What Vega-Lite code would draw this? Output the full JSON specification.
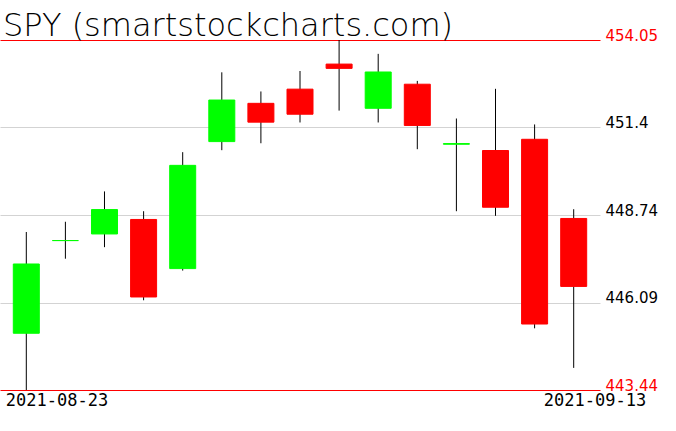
{
  "$schema": "https://vega.github.io/schema/vega-lite/v6.json",
  "width": 600,
  "height": 350,
  "autosize": {"type": "none"},
  "padding": {"left": 0, "top": 40, "right": 76, "bottom": 41},
  "background": "white",
  "title": {
    "text": "SPY (smartstockcharts.com)",
    "anchor": "start",
    "frame": "group",
    "orient": "top",
    "baseline": "alphabetic",
    "offset": -40,
    "dx": 3,
    "font": "DejaVu Sans",
    "fontSize": 32,
    "fontWeight": 200,
    "color": "black"
  },
  "data": {
    "values": [
      {"date": "2021-08-23", "open": 445.16, "high": 448.23, "low": 443.44, "close": 447.26},
      {"date": "2021-08-24", "open": 447.97, "high": 448.54, "low": 447.42, "close": 447.97},
      {"date": "2021-08-25", "open": 448.17, "high": 449.46, "low": 447.77, "close": 448.91},
      {"date": "2021-08-26", "open": 448.61, "high": 448.86, "low": 446.16, "close": 446.26},
      {"date": "2021-08-27", "open": 447.12, "high": 450.65, "low": 447.06, "close": 450.25},
      {"date": "2021-08-30", "open": 450.97, "high": 453.07, "low": 450.71, "close": 452.23},
      {"date": "2021-08-31", "open": 452.13, "high": 452.49, "low": 450.92, "close": 451.56},
      {"date": "2021-09-01", "open": 452.56, "high": 453.11, "low": 451.55, "close": 451.80},
      {"date": "2021-09-02", "open": 453.32, "high": 454.05, "low": 451.91, "close": 453.19},
      {"date": "2021-09-03", "open": 451.98, "high": 453.63, "low": 451.55, "close": 453.08},
      {"date": "2021-09-07", "open": 452.71, "high": 452.81, "low": 450.74, "close": 451.46},
      {"date": "2021-09-08", "open": 450.89, "high": 451.67, "low": 448.86, "close": 450.91},
      {"date": "2021-09-09", "open": 450.70, "high": 452.57, "low": 448.72, "close": 448.98},
      {"date": "2021-09-10", "open": 451.04, "high": 451.49, "low": 445.31, "close": 445.44},
      {"date": "2021-09-13", "open": 448.64, "high": 448.92, "low": 444.11, "close": 446.58}
    ]
  },
  "encoding": {
    "x": {
      "field": "date",
      "type": "ordinal",
      "sort": null,
      "scale": {"type": "point", "padding": 0.6726},
      "axis": {
        "title": null,
        "domain": false,
        "ticks": false,
        "grid": false,
        "labelAngle": 0,
        "labelOverlap": false,
        "labelBound": false,
        "labelExpr": "datum.value == '2021-08-23' || datum.value == '2021-09-13' ? datum.value : ''",
        "labelAlign": {"condition": {"test": "datum.value == '2021-08-23'", "value": "left"}, "value": "right"},
        "labelOffset": {"condition": {"test": "datum.value == '2021-08-23'", "value": -21}, "value": 72},
        "labelPadding": 2,
        "labelBaseline": "top",
        "labelFont": "DejaVu Sans Mono",
        "labelFontSize": 17,
        "labelColor": "black"
      }
    }
  },
  "layer": [
    {
      "mark": {"type": "rule", "color": "black", "strokeWidth": 1},
      "encoding": {
        "y": {
          "field": "low",
          "type": "quantitative",
          "scale": {"domain": [443.44, 454.05], "zero": false, "nice": false},
          "axis": {
            "title": null,
            "orient": "right",
            "values": [454.05, 451.4, 448.74, 446.09, 443.44],
            "format": ".2~f",
            "domain": false,
            "ticks": false,
            "grid": true,
            "gridWidth": 1,
            "gridOpacity": 1,
            "gridColor": {"condition": {"test": "datum.value == 454.05 || datum.value == 443.44", "value": "#ff0000"}, "value": "#d3d3d3"},
            "labelColor": {"condition": {"test": "datum.value == 454.05 || datum.value == 443.44", "value": "#ff0000"}, "value": "black"},
            "labelBaseline": "alphabetic",
            "labelPadding": 5,
            "labelFont": "DejaVu Sans",
            "labelFontSize": 15,
            "labelBound": false,
            "labelOverlap": false
          }
        },
        "y2": {"field": "high"}
      }
    },
    {
      "mark": {"type": "bar", "width": 26, "strokeWidth": 1},
      "encoding": {
        "y": {"field": "open", "type": "quantitative"},
        "y2": {"field": "close"},
        "color": {"condition": {"test": "datum.close >= datum.open", "value": "#00ff00"}, "value": "#ff0000"},
        "stroke": {"condition": {"test": "datum.close >= datum.open", "value": "#00ff00"}, "value": "#ff0000"}
      }
    }
  ],
  "config": {"view": {"stroke": null}}
}
